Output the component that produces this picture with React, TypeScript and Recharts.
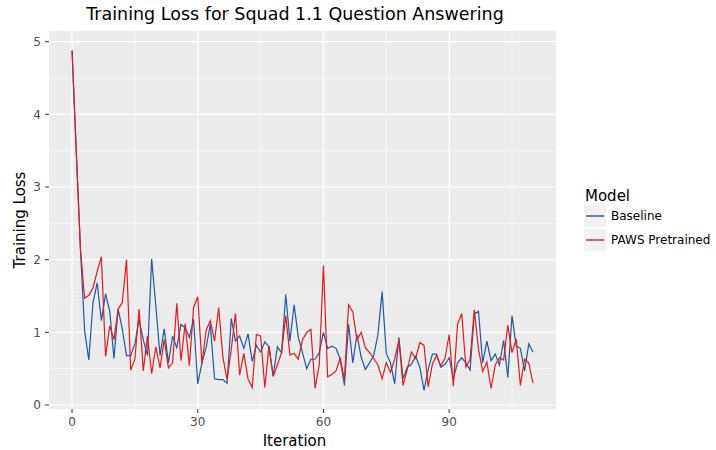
import React from 'react'
import { LineChart, Line, XAxis, YAxis, CartesianGrid } from 'recharts'

// Training loss per iteration
const baseline = [
  4.88, 3.5, 2.15, 1.02, 0.62, 1.41, 1.68, 1.16, 1.53, 1.29,
  0.64, 1.32, 1.04, 0.68, 0.68, 0.84, 1.18, 0.9, 0.68, 2.01,
  1.36, 0.68, 1.05, 0.58, 0.95, 0.79, 1.11, 1.06, 0.93, 1.18,
  0.29, 0.58, 0.79, 1.11, 0.36, 0.35, 0.35, 0.3, 1.19, 0.88,
  0.95, 0.78, 0.98, 0.6, 0.82, 0.73, 0.87, 0.8, 0.4, 0.8,
  0.72, 1.52, 0.88, 1.38, 0.93, 0.72, 0.5, 0.63, 0.63, 0.72,
  1.0, 0.78, 0.81, 0.78, 0.63, 0.27, 1.11, 0.58, 0.97, 0.66,
  0.49, 0.58, 0.68, 0.97, 1.56, 0.71, 0.58, 0.29, 0.93, 0.36,
  0.52, 0.56, 0.67, 0.52, 0.2, 0.49, 0.7, 0.7, 0.52, 0.56,
  0.65, 0.36, 0.58, 0.65, 0.58, 0.48, 1.25, 1.29, 0.58, 0.88,
  0.61, 0.7, 0.55, 0.89, 0.38, 1.23, 0.81, 0.78, 0.47, 0.84,
  0.73,
]

const pawsPretrained = [
  4.88, 3.5, 2.15, 1.47, 1.51, 1.61, 1.84, 2.04, 0.67, 1.09,
  0.9, 1.32, 1.41, 2.0, 0.48, 0.63, 1.32, 0.47, 0.95, 0.43,
  0.8, 0.51, 0.9, 0.51, 0.58, 1.4, 0.61, 1.12, 0.54, 1.34,
  1.49, 0.56, 1.03, 1.16, 0.88, 1.34, 0.66, 0.35, 0.77, 1.26,
  0.41, 0.71, 0.36, 0.24, 0.97, 0.95, 0.24, 0.81, 0.39, 0.55,
  0.72, 1.23, 0.69, 0.71, 0.63, 0.9, 1.0, 1.04, 0.23, 0.56,
  1.92, 0.39, 0.42, 0.47, 0.65, 0.35, 1.38, 1.28, 0.9, 1.0,
  0.79, 0.72, 0.64, 0.55, 0.36, 0.58, 0.45, 0.63, 0.89, 0.27,
  0.49, 0.73, 0.64, 0.86, 0.82, 0.25, 0.56, 0.68, 0.54, 0.64,
  0.97, 0.26, 1.11, 1.26, 0.52, 0.63, 1.31, 0.77, 0.46, 0.59,
  0.23, 0.55, 0.65, 0.62, 1.1, 0.72, 0.91, 0.27, 0.63, 0.58,
  0.3,
]

const xTicks = [0, 30, 60, 90]
const xMinor = [15, 45, 75, 105]
const yTicks = [0, 1, 2, 3, 4, 5]
const yMinor = [0.5, 1.5, 2.5, 3.5, 4.5]

const BLUE = '#2058a5'
const RED = '#e41a1c'
const FONT = '"DejaVu Sans", Verdana, sans-serif'

const data = baseline.map((v, i) => ({
  iteration: i,
  baseline: v,
  paws: pawsPretrained[i],
}))

const legendItems = [
  { label: 'Baseline', color: BLUE },
  { label: 'PAWS Pretrained', color: RED },
]

export default function App() {
  return (
    <div style={{ position: 'absolute', left: 0, top: 0, width: 716, height: 450, background: '#fff', fontFamily: FONT }}>
      <LineChart
        width={716}
        height={450}
        data={data}
        margin={{ top: 31, right: 160, left: 0, bottom: 0 }}
        style={{ fontFamily: FONT }}
      >
        {/* panel background + minor grid */}
        <CartesianGrid
          fill="#ebebeb"
          stroke="#ffffff"
          strokeWidth={0.6}
          horizontalValues={yMinor}
          verticalValues={xMinor}
        />
        {/* major grid */}
        <CartesianGrid
          fill="none"
          stroke="#ffffff"
          strokeWidth={1.2}
          horizontalValues={yTicks}
          verticalValues={xTicks}
        />
        <XAxis
          dataKey="iteration"
          type="number"
          domain={[-5.5, 115.5]}
          ticks={xTicks}
          allowDataOverflow
          height={41}
          axisLine={false}
          tickSize={4}
          tickMargin={4}
          tickLine={{ stroke: '#333333' }}
          tick={{ fill: '#4d4d4d', fontSize: 12 }}
          label={{ value: 'Iteration', position: 'insideBottom', offset: 4.5, dx: -8, fill: '#000', fontSize: 15 }}
        />
        <YAxis
          type="number"
          domain={[-0.055, 5.147]}
          ticks={yTicks}
          allowDataOverflow
          width={49}
          axisLine={false}
          tickSize={4}
          tickMargin={4}
          tickLine={{ stroke: '#333333' }}
          tick={{ fill: '#4d4d4d', fontSize: 12 }}
          label={{
            value: 'Training Loss',
            angle: -90,
            position: 'insideLeft',
            offset: 20,
            fill: '#000',
            fontSize: 15,
            style: { textAnchor: 'middle' },
          }}
        />
        <Line
          type="linear"
          dataKey="baseline"
          stroke={BLUE}
          strokeWidth={1.2}
          dot={false}
          isAnimationActive={false}
        />
        <Line
          type="linear"
          dataKey="paws"
          stroke={RED}
          strokeWidth={1.2}
          dot={false}
          isAnimationActive={false}
        />
      </LineChart>

      <svg
        width={716}
        height={450}
        style={{ position: 'absolute', left: 0, top: 0, pointerEvents: 'none', fontFamily: FONT }}
      >
        <text x={295} y={19.5} textAnchor="middle" fontSize={17.5} fill="#000">
          Training Loss for Squad 1.1 Question Answering
        </text>
        <text x={585} y={201} fontSize={15} fill="#000">Model</text>
        {legendItems.map((item, i) => {
          const top = 205 + i * 24
          return (
            <g key={item.label}>
              <rect x={584} y={top} width={22} height={22} fill="#f2f2f2" />
              <line x1={586} x2={604} y1={top + 11} y2={top + 11} stroke={item.color} strokeWidth={1.4} />
              <text x={611} y={top + 15.3} fontSize={12} fill="#000">{item.label}</text>
            </g>
          )
        })}
      </svg>
    </div>
  )
}
